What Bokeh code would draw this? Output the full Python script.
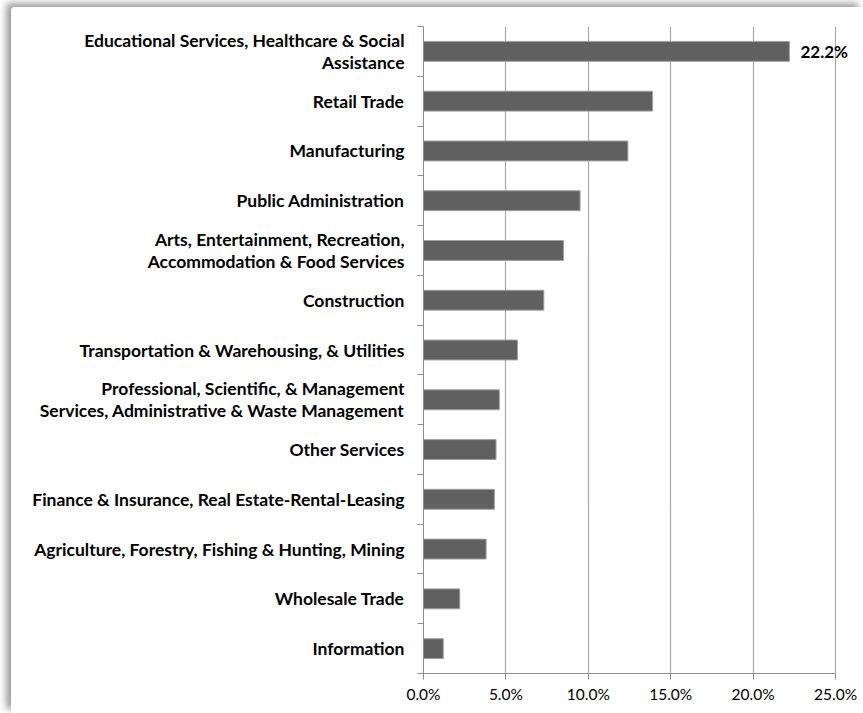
from bokeh.plotting import figure
from bokeh.models import (Range1d, LinearAxis, FixedTicker,
                          PrintfTickFormatter, Label, ColumnDataSource, Grid)
from bokeh.embed import file_html
from bokeh.resources import INLINE

categories = [
    "Educational Services, Healthcare & Social\nAssistance",
    "Retail Trade",
    "Manufacturing",
    "Public Administration",
    "Arts, Entertainment, Recreation,\nAccommodation & Food Services",
    "Construction",
    "Transportation & Warehousing, & Utilities",
    "Professional, Scientific, & Management\nServices, Administrative & Waste Management",
    "Other Services",
    "Finance & Insurance, Real Estate-Rental-Leasing",
    "Agriculture, Forestry, Fishing & Hunting, Mining",
    "Wholesale Trade",
    "Information",
]
shares = [22.2, 13.9, 12.4, 9.5, 8.5, 7.3, 5.7, 4.6, 4.4, 4.3, 3.8, 2.2, 1.2]
x_ticks = [0, 5, 10, 15, 20, 25]
callout_index = 0
callout_text = "22.2%"

FONT = "Lato"
n = len(categories)
# band centres (top to bottom) and band boundaries
slot = [n - i - 0.5 for i in range(n)]
bounds = list(range(n + 1))

source = ColumnDataSource(data=dict(pos=slot, share=shares))

p = figure(width=852, height=706,
           y_range=Range1d(0, n),
           x_range=Range1d(x_ticks[0], 26.21),
           output_backend="svg", toolbar_location=None,
           x_axis_location=None, y_axis_location=None,
           min_border_left=412, min_border_right=8,
           min_border_top=19, min_border_bottom=40)
p.outline_line_color = None
p.background_fill_color = "white"
p.border_fill_color = "white"
p.styles = {"margin-left": "11px", "margin-top": "7px",
            "box-shadow": "-5px -4px 7px rgba(0,0,0,0.38)",
            "border-top-left-radius": "4px"}
p.xgrid.visible = False
p.ygrid.visible = False

# x axis
xaxis = LinearAxis(ticker=FixedTicker(ticks=x_ticks),
                   formatter=PrintfTickFormatter(format="%.1f%%"),
                   bounds=(x_ticks[0], x_ticks[-1]))
xaxis.axis_line_color = "#8c8c8c"
xaxis.major_tick_line_color = "#8c8c8c"
xaxis.major_tick_out = 6
xaxis.major_tick_in = 0
xaxis.minor_tick_line_color = None
xaxis.major_label_text_font = FONT
xaxis.major_label_text_font_size = "15.5px"
xaxis.major_label_text_color = "black"
xaxis.major_label_standoff = 5
p.add_layout(xaxis, "below")

grid = Grid(dimension=0, ticker=FixedTicker(ticks=x_ticks[1:]))
grid.grid_line_color = "#a8a8a8"
grid.grid_line_width = 1.2
p.add_layout(grid)

# category axis: labels at band centres, ticks at band boundaries
cat_axis = LinearAxis(ticker=FixedTicker(ticks=slot, minor_ticks=bounds),
                      major_label_overrides={s: c for s, c in zip(slot, categories)})
cat_axis.axis_line_color = "#8c8c8c"
cat_axis.major_tick_line_color = None
cat_axis.major_tick_out = 0
cat_axis.major_tick_in = 0
cat_axis.minor_tick_line_color = "#8c8c8c"
cat_axis.minor_tick_out = 6
cat_axis.minor_tick_in = 0
cat_axis.major_label_text_font = FONT
cat_axis.major_label_text_font_size = "17.5px"
cat_axis.major_label_text_font_style = "bold"
cat_axis.major_label_text_color = "black"
cat_axis.major_label_text_line_height = 1.05
cat_axis.major_label_standoff = 13
p.add_layout(cat_axis, "left")

p.hbar(y="pos", right="share", left=0, height=0.4, source=source,
       fill_color="#606060", line_color="#a0a0a0", line_width=1)

lbl = Label(x=shares[callout_index], y=slot[callout_index], x_offset=11,
            text=callout_text, text_baseline="middle", text_font=FONT,
            text_font_size="17px", text_font_style="bold", text_color="black")
p.add_layout(lbl)

open("out.html", "w").write(file_html(p, INLINE))
